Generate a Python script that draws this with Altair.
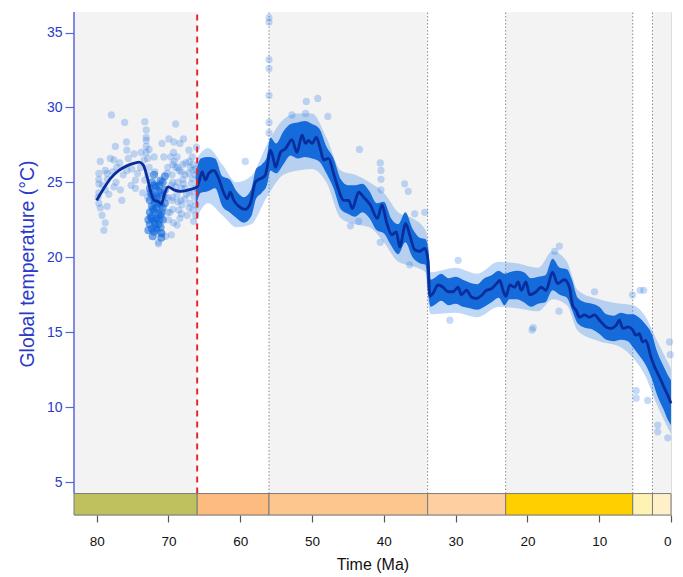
import altair as alt
import pandas as pd

# ---------------- data ----------------
# smoothed global temperature curve
line_t = [80.0, 79.0, 78.1, 76.9, 75.8, 74.6, 74.1, 73.5, 73.0, 72.4, 72.0, 71.35, 71.0, 70.55, 70.05,
          69.25, 68.3, 67.2, 66.0, 65.3, 64.85, 64.4, 63.7, 63.0, 62.3, 61.8, 61.4, 60.9, 60.2, 59.3,
          58.6, 57.9, 57.4, 56.95, 56.5, 56.3, 55.8, 55.4, 55.1, 54.4, 53.7, 52.8, 52.1, 51.4, 50.9,
          50.5, 50.0, 49.4, 48.8, 48.4, 47.7, 47.0, 46.3, 45.6, 44.9, 44.4, 43.5, 42.8, 41.9, 40.9,
          40.25, 39.6, 38.9, 38.25, 37.8, 36.95, 36.4, 35.7, 35.0, 34.3, 33.85, 33.6, 33.15, 32.45, 31.75,
          31.05, 30.35, 29.65, 29.2, 28.5, 27.8, 27.1, 26.4, 25.7, 25.0, 24.3, 23.85, 23.4, 23.0, 22.45,
          21.8, 21.3, 20.85, 20.2, 19.7, 18.8, 18.1, 17.4, 16.5, 15.8, 14.85, 14.15, 13.7, 13.2, 12.75,
          12.05, 11.35, 10.65, 9.95, 9.05, 8.35, 7.65, 7.2, 6.7, 6.0, 5.35, 4.9, 4.4, 3.95, 3.5,
          2.8, 2.3, 1.85, 1.4, 0.9, 0.45, 0.0]
line_temp = [23.8, 24.6, 25.25, 25.8, 26.1, 26.3, 26.35, 26.15, 25.4, 24.25, 23.8, 23.7, 23.55, 24.25, 24.7,
             24.5, 24.4, 24.5, 24.7, 25.7, 25.15, 25.6, 25.8, 25.25, 24.3, 23.9, 24.35, 23.8, 23.4, 23.2,
             23.6, 25.0, 25.2, 25.3, 25.5, 25.9, 27.15, 26.6, 26.0, 27.0, 27.25, 27.85, 27.0, 28.15, 27.6,
             27.8, 27.6, 28.0, 27.15, 26.5, 26.6, 25.6, 24.5, 23.8, 23.8, 23.25, 24.35, 24.0, 23.5, 22.6,
             23.5, 22.3, 21.5, 21.7, 20.7, 22.25, 21.5, 20.5, 20.4, 20.6, 19.8, 17.4, 17.6, 18.15, 18.0,
             17.7, 17.7, 18.0, 17.5, 17.8, 17.35, 17.25, 17.45, 17.8, 17.9, 18.25, 18.45, 17.8, 17.4, 18.15,
             18.0, 18.35, 17.8, 18.35, 17.5, 17.7, 18.0, 17.8, 19.0, 18.25, 18.5, 18.0, 16.8, 16.45, 16.0,
             16.15, 16.0, 16.15, 15.8, 15.35, 15.25, 15.45, 15.8, 15.25, 15.35, 15.15, 14.8, 14.9, 14.35, 14.45,
             13.35, 12.7, 12.25, 11.8, 11.25, 10.8, 10.25]

# dense core of the data cloud after the K/Pg boundary (lower / upper edge)
core_t = [66.2, 65.5, 64.5, 63.5, 62.5, 61.5, 60.5, 59.5, 58.5, 57.8, 57.0, 56.3, 55.8, 55.0, 54.0, 53.0,
          52.0, 51.0, 50.0, 49.0, 48.0, 47.0, 46.0, 45.0, 44.0, 43.0, 42.0, 41.0, 40.0, 39.0, 38.0,
          37.0, 36.0, 35.0, 34.2, 33.8, 33.5, 33.0, 32.0, 31.0, 30.0, 29.0, 28.0, 27.0, 26.0, 25.0,
          24.0, 23.2, 22.5, 21.5, 20.5, 19.5, 18.5, 17.5, 16.5, 15.5, 14.5, 13.8, 13.0, 12.0, 11.0,
          10.0, 9.0, 8.0, 7.0, 6.0, 5.3, 4.5, 3.5, 2.6, 2.0, 1.5, 1.0, 0.5, 0.0]
core_lo = [23.3, 24.3, 24.4, 24.6, 23.4, 23.0, 22.6, 22.3, 22.7, 23.9, 24.3, 24.8, 25.8, 25.6, 26.2, 26.8,
           26.6, 26.7, 26.6, 26.4, 25.6, 24.6, 23.2, 22.9, 22.7, 23.0, 22.6, 21.8, 21.6, 20.8, 20.2,
           21.0, 20.0, 19.6, 19.5, 17.5, 16.7, 16.8, 17.1, 16.8, 16.9, 16.7, 16.6, 16.5, 16.7, 17.0,
           17.3, 16.8, 17.2, 17.2, 17.0, 16.7, 16.9, 17.0, 17.8, 17.5, 17.3, 16.5, 15.6, 15.3, 15.2,
           14.9, 14.5, 14.4, 14.5, 14.4, 14.0, 13.5, 12.8, 11.8, 10.9, 10.3, 9.8, 9.2, 8.8]
core_hi = [25.6, 26.6, 26.7, 26.6, 25.4, 25.2, 24.4, 24.0, 24.5, 25.9, 26.2, 26.7, 28.0, 27.6, 28.4, 28.9,
           29.0, 29.1, 28.9, 28.6, 27.4, 26.6, 25.2, 24.8, 24.8, 24.9, 24.4, 23.6, 23.7, 22.6, 22.2,
           23.0, 21.9, 21.3, 21.2, 20.5, 18.5, 18.6, 18.9, 18.6, 18.7, 18.5, 18.3, 18.2, 18.6, 18.8,
           19.1, 18.9, 19.0, 19.1, 19.0, 18.6, 18.7, 18.8, 19.9, 19.3, 19.2, 18.5, 17.3, 17.0, 16.9,
           16.7, 16.2, 16.1, 16.3, 16.2, 16.2, 16.0, 15.5, 14.8, 13.8, 13.2, 12.7, 12.2, 11.8]

# lighter fringe of the cloud
halo_t = [66.2, 64.5, 62.5, 60.5, 58.5, 56.3, 54.0, 52.0, 50.0, 48.0, 46.0, 44.0, 42.0, 40.0, 38.0,
          36.0, 34.2, 33.8, 33.5, 30.0, 27.0, 24.0, 21.5, 18.5, 16.5, 14.5, 13.0, 10.0, 7.0, 5.3,
          3.5, 2.0, 0.0]
halo_lo = [22.5, 23.6, 22.8, 22.0, 22.2, 24.0, 25.5, 25.8, 25.9, 25.0, 22.6, 22.2, 22.0, 21.0, 19.7,
           19.4, 19.0, 16.9, 16.2, 16.3, 16.0, 16.7, 16.6, 16.4, 17.2, 16.8, 15.1, 14.4, 14.0, 13.3,
           12.0, 10.2, 8.2]
halo_hi = [26.5, 27.3, 26.2, 25.0, 25.4, 27.5, 29.2, 29.6, 29.6, 28.0, 25.8, 25.5, 25.0, 24.3, 23.0,
           22.6, 21.8, 20.8, 19.0, 19.3, 18.9, 19.7, 19.6, 19.3, 20.4, 19.7, 17.8, 17.2, 16.9, 16.8,
           16.0, 14.5, 12.6]

# individual (scattered) estimates, Cretaceous
kpts_t = [77.95, 76.1, 73.3, 69.0, 79.5, 79.7, 79.7, 79.7, 79.7, 79.7, 78.55, 78.1, 77.6, 77.4, 79.25,
          78.8, 79.0, 78.55, 76.7, 76.5, 75.85, 75.8, 74.6, 74.6, 73.9, 73.3, 73.1, 73.1, 73.1, 73.1,
          73.1, 72.0, 71.9, 71.8, 71.7, 71.6, 71.5, 71.4, 71.4, 70.9, 70.4, 69.6, 69.3, 69.7, 69.2,
          68.8, 68.4, 68.0, 67.15, 66.7, 66.95, 66.7, 67.9, 68.3, 68.55, 68.4, 68.8, 67.4, 66.6, 66.5,
          69.5, 69.0, 70.2, 70.65, 70.9, 69.25, 69.95, 67.9, 66.1, 75.1, 75.8, 77.2, 78.8, 77.6, 78.5,
          69.5, 69.0, 68.5, 68.0, 67.5, 67.0, 66.4, 66.3, 69.8, 68.8, 67.6, 70.0, 69.3, 68.1, 67.2,
          66.8, 70.4, 69.6, 79.8, 79.5, 79.2, 78.8, 78.3, 77.8, 77.3, 76.8, 76.3, 75.6, 75.2, 74.8,
          74.3, 73.8, 73.6, 73.4, 72.9, 72.9, 72.9, 72.7, 72.7,
          70.1, 70.1, 70.1, 69.4, 69.4, 69.4, 69.4, 68.7, 68.7, 68.7,
          68.2, 68.2, 68.2, 67.7, 67.7, 67.7, 67.1, 67.1, 67.1, 66.6, 66.6, 66.6, 66.2, 66.2, 66.2,
          66.2]
kpts_temp = [29.5, 29.0, 29.05, 28.9, 26.4, 25.6, 25.2, 24.9, 24.3, 23.6, 25.6, 26.6, 26.5, 27.4, 22.8,
             22.3, 21.8, 23.4, 24.5, 23.8, 27.7, 27.15, 25.15, 24.6, 26.0, 25.15, 28.5, 28.0, 27.8, 27.4,
             27.0, 26.7, 25.7, 24.7, 24.2, 22.6, 21.8, 21.0, 20.9, 21.6, 21.4, 21.5, 27.0, 26.7, 26.4,
             26.7, 27.6, 26.2, 27.15, 26.7, 26.0, 25.25, 24.9, 23.8, 23.15, 22.6, 22.15, 22.8, 23.15, 22.4,
             23.8, 24.7, 25.6, 26.7, 27.6, 27.7, 27.9, 27.9, 27.35, 25.9, 25.8, 26.0, 24.5, 24.7, 25.2,
             25.5, 26.0, 25.8, 25.2, 24.2, 23.6, 24.0, 25.5, 23.0, 24.2, 26.3, 22.5, 22.3, 23.5, 25.6,
             24.9, 24.0, 24.8, 24.0, 23.3, 24.8, 25.8, 24.2, 25.7, 25.0, 26.3, 25.5, 26.6, 24.8, 26.9,
             25.6, 27.0, 24.3, 26.5, 24.0, 25.5, 26.6, 26.0, 27.2,
             23.0, 24.0, 26.0, 24.0, 25.0, 26.2, 23.2, 23.7, 25.0, 26.0,
             24.6, 25.7, 22.9, 23.9, 24.6, 25.5, 23.3, 24.3, 26.4, 24.4, 25.8, 26.2, 23.5, 24.6, 25.9,
             22.8]

# densest Cretaceous cluster (about 73 to 70.5 Ma)
kdense_t = [72.6, 72.6, 72.6, 72.6, 72.3, 72.3, 72.3, 72.3, 72.3, 72.0, 72.0, 72.0, 72.0, 72.0, 72.0,
            71.7, 71.7, 71.7, 71.7, 71.7, 71.4, 71.4, 71.4, 71.4, 71.1, 71.1, 71.1, 71.1, 71.1, 70.8,
            70.8, 70.8, 70.8, 70.5, 70.5, 70.5, 72.45, 72.15, 71.85, 71.55, 71.25, 70.95, 72.5, 71.9, 71.3,
            72.8, 72.8, 71.0, 71.0, 72.2]
kdense_temp = [22.2, 23.0, 23.8, 24.6, 21.9, 22.6, 23.4, 24.2, 25.0, 21.7, 22.4, 23.1, 23.9, 24.8, 25.5,
               21.9, 22.6, 23.3, 24.0, 24.7, 22.2, 22.9, 23.6, 24.4, 22.0, 22.8, 23.5, 24.3, 25.1, 22.5,
               23.3, 24.1, 25.0, 23.6, 24.5, 25.4, 22.7, 23.2, 22.2, 23.9, 22.5, 23.0, 24.3, 23.6, 24.8,
               21.8, 22.5, 21.6, 21.3, 21.4]

# individual outlying estimates after 66 Ma
opts_t = [56.0, 56.0, 56.0, 56.0, 56.0, 56.0, 56.0, 50.8, 49.2, 47.8, 43.4, 50.9, 52.8, 59.3, 40.5,
          40.4, 40.4, 40.4, 44.65, 43.5, 40.5, 37.1, 36.6, 35.7, 34.3, 36.4, 29.65, 30.8, 19.2, 15.55,
          16.2, 19.35, 15.6, 10.65, 5.35, 4.3, 3.8, 4.85, 4.85, 3.25, 1.85, 1.85, 0.45, 0.2, 0.1]
opts_temp = [36.0, 35.7, 33.2, 32.6, 30.8, 29.0, 28.3, 30.4, 30.6, 29.4, 27.2, 29.6, 29.5, 26.4, 26.3,
             25.8, 25.2, 24.5, 22.1, 22.4, 21.0, 24.9, 24.4, 22.9, 23.0, 19.5, 19.8, 15.8, 15.3, 20.75,
             20.4, 15.15, 16.4, 17.7, 17.5, 17.8, 17.8, 11.1, 10.6, 10.45, 8.8, 8.35, 7.95, 14.35, 13.5]

# geological epochs (Ma) and the timescale colours
epoch_name = ["Cretaceous", "Paleocene", "Eocene", "Oligocene", "Miocene", "Pliocene", "Pleistocene"]
epoch_start = [83.16, 66.0, 56.0, 33.9, 23.03, 5.33, 2.58]
epoch_end = [66.0, 56.0, 33.9, 23.03, 5.33, 2.58, 0.0]
epoch_color = ["#bec15c", "#fdbb80", "#fdc68f", "#fecfa0", "#ffd000", "#fff3b3", "#fff0c8"]
epoch_shade = ["#f3f3f3", "#ffffff", "#f3f3f3", "#ffffff", "#f3f3f3", "#ffffff", "#f3f3f3"]
boundaries = [56.0, 33.9, 23.03, 5.33, 2.58]
kpg = [66.0]

y_ticks = [5, 10, 15, 20, 25, 30, 35]
x_ticks = [80, 70, 60, 50, 40, 30, 20, 10, 0]

# ---------------- layout constants ----------------
Y_LOW, Y_BAR_TOP, Y_HIGH = 2.80, 4.23, 36.37
X_LEFT = 83.16
BLUE = "#2a3bc8"
FONT = "Liberation Sans"

line_df = pd.DataFrame({"t": line_t, "temp": line_temp})
core_df = pd.DataFrame({"t": core_t, "lo": core_lo, "hi": core_hi})
halo_df = pd.DataFrame({"t": halo_t, "lo": halo_lo, "hi": halo_hi})
pts_df = pd.DataFrame({"t": kpts_t + opts_t, "temp": kpts_temp + opts_temp})
dense_df = pd.DataFrame({"t": kdense_t, "temp": kdense_temp})
ep_df = pd.DataFrame({"name": epoch_name, "start": epoch_start, "end": epoch_end,
                      "color": epoch_color, "shade": epoch_shade})
ep_df["y0"] = Y_BAR_TOP
ep_df["y1"] = Y_HIGH
ep_df["b0"] = Y_LOW
bd_df = pd.DataFrame({"t": boundaries})
kpg_df = pd.DataFrame({"t": kpg})

xscale = alt.Scale(domain=[0, X_LEFT], reverse=True, nice=False, zero=False)
yscale = alt.Scale(domain=[Y_LOW, Y_HIGH], nice=False, zero=False)

xaxis = alt.Axis(values=x_ticks, title="Time (Ma)", domain=False, grid=False,
                 tickColor="#555555", tickSize=7, tickWidth=1.2, labelFontSize=13.5,
                 labelColor="#111111", labelPadding=12, titleFontSize=16,
                 titleFontWeight="normal", titleColor="#111111", titlePadding=9,
                 labelFont=FONT, titleFont=FONT)
yaxis = alt.Axis(values=y_ticks, title="Global temperature (°C)", domain=False, grid=False,
                 tickColor="#5566d8", tickSize=9, tickWidth=1.2, labelFontSize=14,
                 labelColor=BLUE, labelPadding=3, titleFontSize=19.5,
                 titleFontWeight="normal", titleColor=BLUE, titlePadding=9,
                 labelFont=FONT, titleFont=FONT)

X = lambda f="t": alt.X(f"{f}:Q", scale=xscale, axis=xaxis)
Y = lambda f: alt.Y(f"{f}:Q", scale=yscale, axis=yaxis)

shade = alt.Chart(ep_df).mark_rect().encode(
    x=X("start"), x2="end", y=Y("y0"), y2="y1",
    color=alt.Color("shade:N", scale=None))

bdry = alt.Chart(bd_df).mark_rule(color="#8a8a8a", strokeDash=[1.5, 2], strokeWidth=1).encode(
    x=X("t"), y=alt.datum(Y_BAR_TOP), y2=alt.datum(Y_HIGH))

halo = alt.Chart(halo_df).mark_area(color="#3a86ea", opacity=0.32, interpolate="monotone").encode(
    x=X("t"), y=Y("lo"), y2="hi")

core = alt.Chart(core_df).mark_area(color="#0862d8", opacity=0.92, interpolate="monotone").encode(
    x=X("t"), y=Y("lo"), y2="hi")

pts = alt.Chart(pts_df).mark_circle(color="#2a78e4", opacity=0.27, size=52).encode(
    x=X("t"), y=Y("temp"))

dense = alt.Chart(dense_df).mark_circle(color="#0a64da", opacity=0.55, size=64).encode(
    x=X("t"), y=Y("temp"))

line = alt.Chart(line_df).mark_line(color="#0a2d9e", strokeWidth=2.8, interpolate="monotone").encode(
    x=X("t"), y=Y("temp"))

red = alt.Chart(kpg_df).mark_rule(color="#e3262b", strokeDash=[6, 5], strokeWidth=2).encode(
    x=X("t"), y=alt.datum(Y_BAR_TOP), y2=alt.datum(Y_HIGH))

bar = alt.Chart(ep_df).mark_rect(stroke="#7a7a7a", strokeWidth=1).encode(
    x=X("start"), x2="end", y=Y("b0"), y2="y0",
    color=alt.Color("color:N", scale=None))

yline = alt.Chart(kpg_df).mark_rule(color="#5566d8", strokeWidth=1.5).encode(
    x=alt.value(0), y=alt.datum(Y_BAR_TOP), y2=alt.datum(Y_HIGH))

chart = alt.layer(shade, bdry, halo, core, pts, dense, line, red, bar, yline).properties(
    width=597, height=503,
    autosize=alt.AutoSizeParams(type="none"),
    padding={"left": 66, "top": 4, "right": 4, "bottom": 62},
).configure_view(stroke=None).configure(background="white")

chart.save("out.html", embed_options={"renderer": "svg", "actions": False})
